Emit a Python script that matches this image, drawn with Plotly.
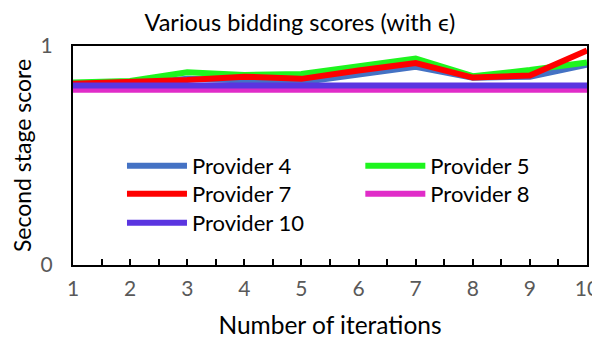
import plotly.graph_objects as go

iterations = [1, 2, 3, 4, 5, 6, 7, 8, 9, 10]
provider4 = [0.82, 0.825, 0.85, 0.845, 0.835, 0.87, 0.905, 0.855, 0.86, 0.915]
provider5 = [0.833, 0.84, 0.88, 0.868, 0.872, 0.905, 0.943, 0.862, 0.89, 0.925]
provider7 = [0.828, 0.835, 0.845, 0.86, 0.85, 0.888, 0.922, 0.856, 0.865, 0.98]
provider8 = [0.80] * 10
provider10 = [0.82] * 10

names = ["Provider 4", "Provider 5", "Provider 7", "Provider 8", "Provider 10"]
values = [provider4, provider5, provider7, provider8, provider10]
colors = ["#4472C4", "#1EF51E", "#FF0000", "#E02CC8", "#5A35E0"]
# legend slot (column x, row y in paper coords)
legend_x = [0.0953, 0.559, 0.0953, 0.559, 0.0953]
legend_y = [0.452, 0.452, 0.324, 0.324, 0.192]

fig = go.Figure()
font = "Lato, 'Open Sans', sans-serif"
legends = {}
for i, (name, vals, color) in enumerate(zip(names, values, colors)):
    lg = "legend" if i == 0 else f"legend{i + 1}"
    fig.add_trace(go.Scatter(x=iterations, y=vals, mode="lines", name=name,
                             line=dict(color=color, width=6), legend=lg))
    legends[lg] = dict(x=legend_x[i], y=legend_y[i], xanchor="left", yanchor="middle",
                       orientation="v", bgcolor="rgba(0,0,0,0)",
                       font=dict(size=22, color="black"), itemwidth=60)

# the page body has an 8px margin, so the figure is sized to fit the window
fig.update_layout(
    width=592, height=335,
    margin=dict(l=65, r=13, t=38, b=78),
    paper_bgcolor="white", plot_bgcolor="white",
    font=dict(family=font, size=20, color="black"),
    title=dict(text="Various bidding scores (with ϵ)", x=0.493, xanchor="center",
               xref="container", yref="container",
               y=0.955, yanchor="middle", font=dict(size=23.5, color="black")),
    showlegend=True,
    **legends,
)
fig.update_xaxes(range=[1, 10], tickmode="array", tickvals=iterations,
                 ticks="inside", ticklen=6, tickwidth=2, tickcolor="black",
                 minor=dict(dtick=0.5, tick0=1, ticks="inside", ticklen=6, tickwidth=2, tickcolor="black"),
                 showline=True, linecolor="black", linewidth=2, mirror=True,
                 showgrid=False, zeroline=False, automargin=False, ticklabelstandoff=4,
                 tickfont=dict(size=21, color="#595959"),
                 title=dict(text="Number of iterations", font=dict(size=24.5, color="black"), standoff=18))
fig.update_yaxes(range=[0, 1], tickmode="array", tickvals=[0, 1], ticks="",
                 showline=True, linecolor="black", linewidth=2, mirror=True,
                 showgrid=False, zeroline=False, ticklabelstandoff=14, automargin=False,
                 tickfont=dict(size=21, color="#595959"),
                 title=dict(text="Second stage score", font=dict(size=23, color="black"), standoff=10))

fig.write_html("out.html")
